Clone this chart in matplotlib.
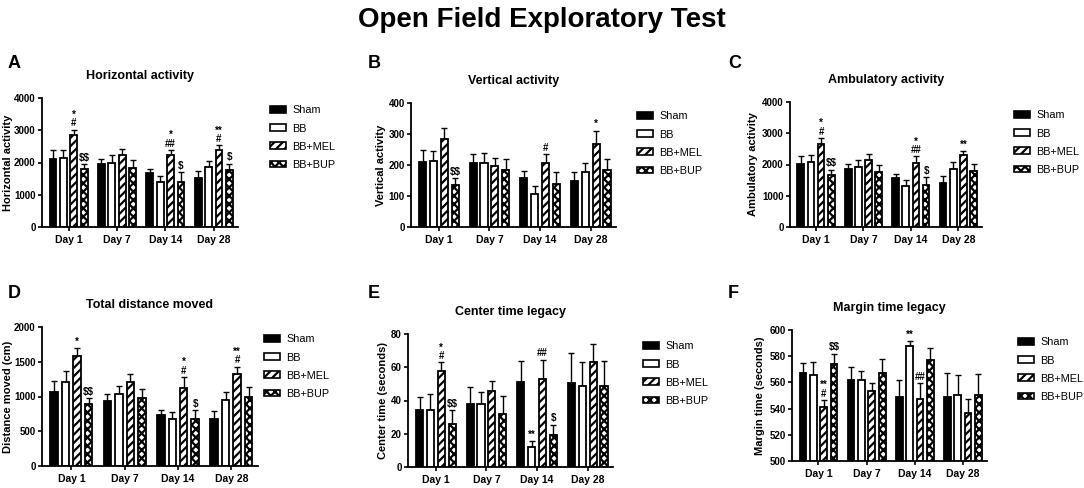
import numpy as np
import matplotlib
matplotlib.use("Agg")
import matplotlib.pyplot as plt
from matplotlib.patches import Patch

plt.rcParams["font.family"] = ["Liberation Sans", "DejaVu Sans"]
plt.rcParams["font.weight"] = "bold"
plt.rcParams["hatch.linewidth"] = 1.6
plt.rcParams["text.parse_math"] = False  # "$" is a plain sign here

days = ["Day 1", "Day 7", "Day 14", "Day 28"]
groups = ["Sham", "BB", "BB+MEL", "BB+BUP"]

# A - horizontal activity
horiz_mean = [[2100, 1960, 1670, 1520], [2150, 2000, 1380, 1850],
              [2850, 2240, 2220, 2380], [1790, 1830, 1410, 1760]]
horiz_err = [[280, 160, 130, 220], [230, 230, 200, 200],
             [170, 180, 170, 150], [150, 250, 280, 200]]
horiz_sig = {(2, 0): "*\n#", (3, 0): "$$", (2, 2): "*\n##", (3, 2): "$",
             (2, 3): "**\n#", (3, 3): "$"}

# B - vertical activity
vert_mean = [[210, 207, 158, 150], [212, 207, 108, 178],
             [285, 198, 205, 267], [137, 183, 138, 185]]
vert_err = [[38, 27, 22, 28], [34, 33, 23, 30],
            [35, 26, 30, 44], [20, 37, 40, 33]]
vert_sig = {(3, 0): "$$", (2, 2): "#", (2, 3): "*"}

# C - ambulatory activity
amb_mean = [[2020, 1870, 1580, 1420], [2080, 1930, 1320, 1860],
            [2660, 2150, 2050, 2290], [1680, 1750, 1330, 1780]]
amb_err = [[260, 150, 130, 220], [230, 230, 200, 220],
           [190, 200, 210, 140], [150, 250, 270, 250]]
amb_sig = {(2, 0): "*\n#", (3, 0): "$$", (2, 2): "*\n##", (3, 2): "$",
           (2, 3): "**"}

# D - total distance moved
dist_mean = [[1060, 930, 740, 680], [1210, 1030, 670, 950],
             [1580, 1210, 1120, 1320], [890, 975, 670, 1000]]
dist_err = [[160, 110, 70, 110], [160, 120, 110, 120],
            [120, 120, 160, 110], [90, 140, 130, 140]]
dist_sig = {(2, 0): "*", (3, 0): "$$", (2, 2): "*\n#", (3, 2): "$",
            (2, 3): "**\n#"}

# E - center time
center_mean = [[34, 38, 51, 50.5], [34, 38, 12, 49],
               [58, 46, 53, 63], [26, 32, 19.5, 49]]
center_err = [[8, 10, 13, 18], [10, 7, 3.5, 14],
              [5, 6, 11.5, 11], [8, 10.5, 6, 15]]
center_sig = {(2, 0): "*\n#", (3, 0): "$$", (1, 2): "**", (2, 2): "##",
              (3, 2): "$"}

# F - margin time
margin_mean = [[567, 561.5, 548.5, 549], [565.5, 561.5, 587.5, 550.5],
               [541.5, 553.5, 547.5, 536.5], [574, 567.5, 577, 550.5]]
margin_err = [[8, 10, 13, 18], [10, 7, 4, 15],
              [5, 6, 12, 11], [8, 10, 9, 16]]
margin_sig = {(2, 0): "**\n#", (3, 0): "$$", (1, 2): "**", (2, 2): "##"}

# letter, title, ylabel, data..., ylim, step, axes box (px), legend (px), letter (px), ylabel right edge (px)
panels = [
    ("A", "Horizontal activity", "Horizontal activity", horiz_mean, horiz_err, horiz_sig,
     (0, 4000), 1000, (42, 238, 98, 227), (265, 100), (8, 63), 13),
    ("B", "Vertical activity", "Vertical activity", vert_mean, vert_err, vert_sig,
     (0, 400), 100, (411, 616, 103, 227), (632, 106), (368, 63), 386),
    ("C", "Ambulatory activity", "Ambulatory activity", amb_mean, amb_err, amb_sig,
     (0, 4000), 1000, (790, 982, 102, 227), (1009, 105), (728, 63), 758),
    ("D", "Total distance moved", "Distance moved (cm)", dist_mean, dist_err, dist_sig,
     (0, 2000), 500, (42, 258, 327, 466), (259, 329), (8, 293), 13),
    ("E", "Center time legacy", "Center time (seconds)", center_mean, center_err, center_sig,
     (0, 80), 20, (408, 613, 334, 467), (638, 336), (368, 293), 388),
    ("F", "Margin time legacy", "Margin time (seconds)", margin_mean, margin_err, margin_sig,
     (500, 600), 20, (792, 987, 330, 461), (1013, 332), (728, 293), 765),
]

W, H = 1084, 488
fig = plt.figure(figsize=(W / 100, H / 100), dpi=100)

faces = ["black", "white", "white", "white"]
hatches = [None, None, "////", "xxxx"]
width = 0.14
pitch = 0.215

fig.text(0.5, 1 - 20 / H, "Open Field Exploratory Test", ha="center", va="center",
         fontsize=20, fontweight="bold")

for letter, title, ylabel, means, errs, sigs, ylim, step, box, legpos, letpos, labx in panels:
    x0, x1, yt, yb = box
    ax = fig.add_axes([x0 / W, 1 - yb / H, (x1 - x0) / W, (yb - yt) / H])
    x = np.arange(len(days))
    for g in range(4):
        pos = x + (g - 1.5) * pitch
        m = np.array(means[g])
        e = np.array(errs[g])
        ax.bar(pos, m - ylim[0], width, bottom=ylim[0], color=faces[g],
               edgecolor="black", linewidth=1.3, hatch=hatches[g], zorder=2)
        ax.errorbar(pos, m, yerr=[np.zeros_like(e), e], fmt="none", ecolor="black",
                    elinewidth=1.0, capsize=2.2, capthick=1.0, zorder=1)
        for d in range(4):
            if (g, d) in sigs:
                ax.annotate(sigs[(g, d)], (pos[d], m[d] + e[d]), xytext=(0, 1),
                            textcoords="offset points", ha="center", va="bottom",
                            fontsize=7, linespacing=0.8)
    ax.set_xlim(-0.55, 3.5)
    ax.set_ylim(*ylim)
    ax.set_yticks(np.arange(ylim[0], ylim[1] + 1, step))
    ax.set_xticks(x)
    ax.set_xticklabels(days)
    ax.tick_params(labelsize=7, width=1.2, length=3, pad=1.5)
    ax.tick_params(axis="x", labelsize=7.5, pad=3)
    for lab in ax.get_xticklabels() + ax.get_yticklabels():
        lab.set_fontweight("bold")
    ax.spines["top"].set_visible(False)
    ax.spines["right"].set_visible(False)
    ax.spines["left"].set_linewidth(1.3)
    ax.spines["bottom"].set_linewidth(1.3)
    ax.set_ylabel(ylabel, fontsize=8, fontweight="bold")
    ax.yaxis.set_label_coords((labx - x0) / (x1 - x0), 0.5)
    ax.set_title(title, fontsize=9, fontweight="bold", pad=14)
    fig.text(letpos[0] / W, 1 - letpos[1] / H, letter, fontsize=13,
             fontweight="bold", ha="left", va="center")

    handles = [Patch(facecolor=faces[g], edgecolor="black", hatch=hatches[g],
                     linewidth=1.2) for g in range(4)]
    fig.legend(handles, groups, loc="upper left",
               bbox_to_anchor=(legpos[0] / W, 1 - legpos[1] / H),
               frameon=False, handlelength=1.4, handleheight=0.6,
               labelspacing=0.75, handletextpad=0.6, borderpad=0,
               prop={"size": 7.8, "weight": "normal"})

fig.savefig("out.png", dpi=100)
